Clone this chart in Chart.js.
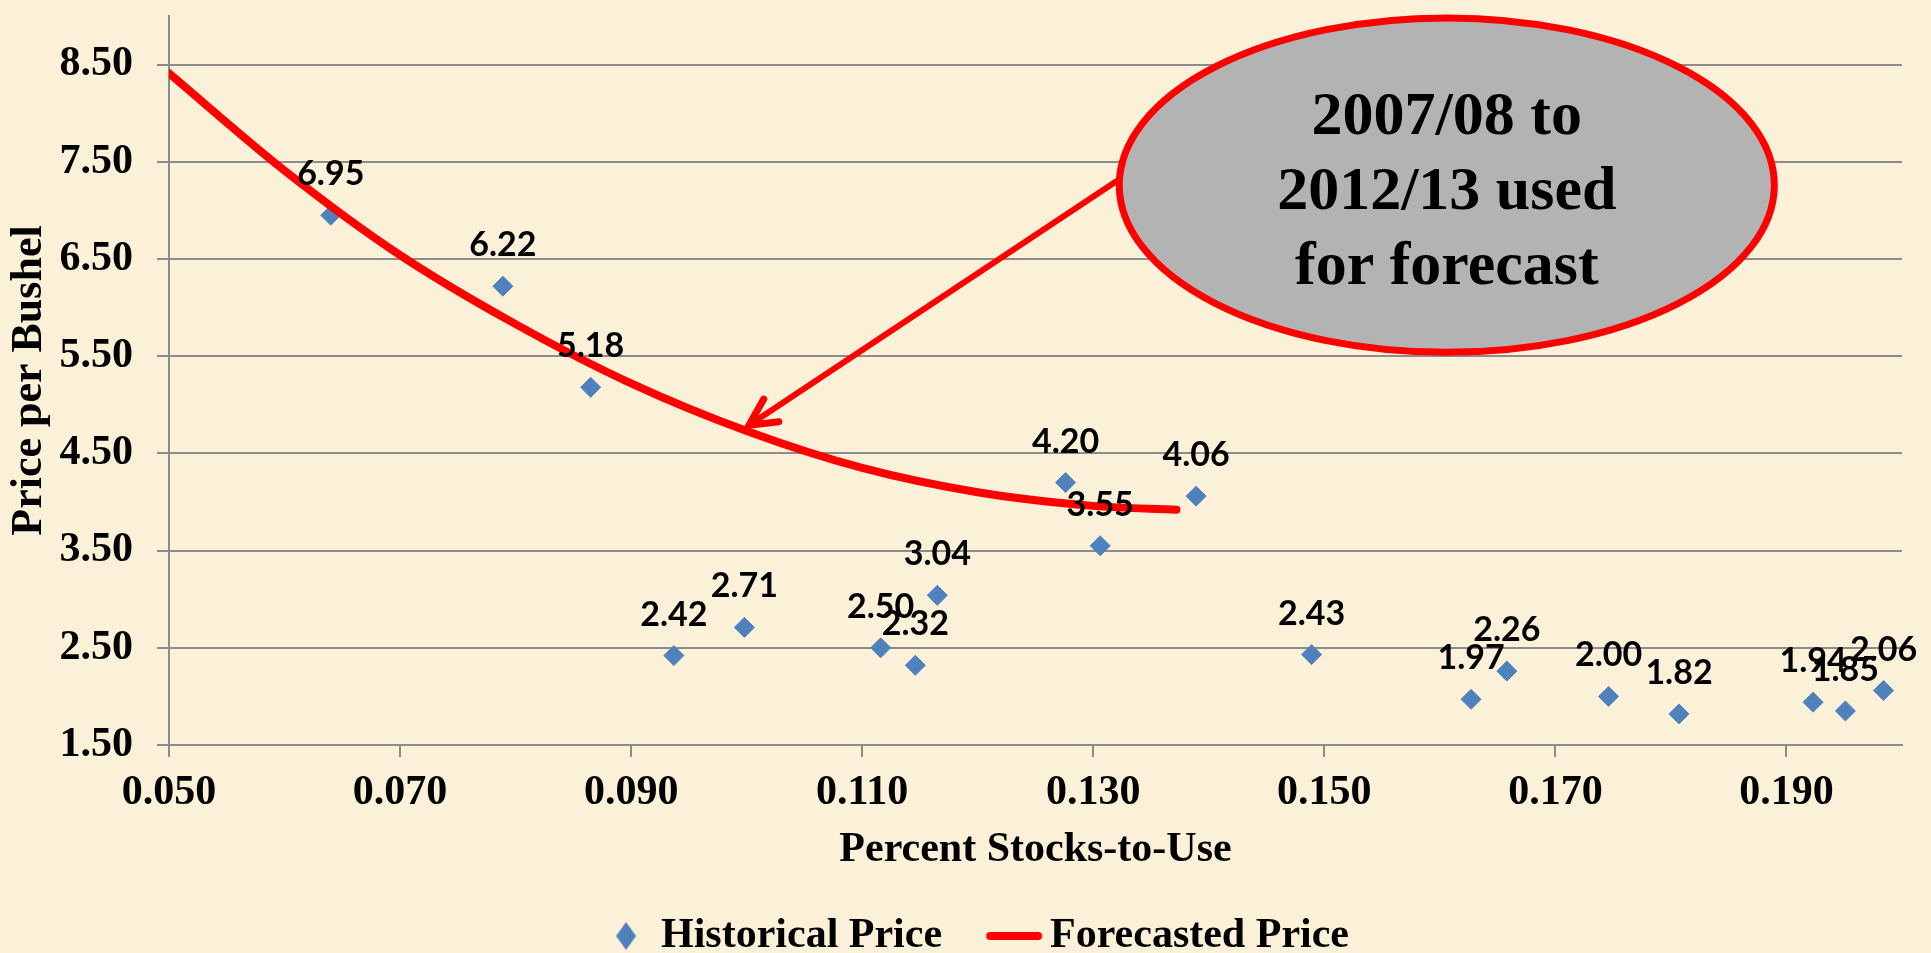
<!DOCTYPE html>
<html>
<head>
<meta charset="utf-8">
<script src="https://cdn.jsdelivr.net/npm/chart.js@4.4.1/dist/chart.umd.min.js"></script>
<style>
    html, body { margin: 0; padding: 0; overflow: hidden; background: #FBF1D9; }
    #myChart { display: block; }
</style>
</head>
<body>
<canvas id="myChart" width="1931" height="967"></canvas>
<script>
// historical season averages (stocks-to-use ratio vs price)
const histStocks = [0.0640, 0.0789, 0.0865, 0.0937, 0.0998, 0.1116, 0.1146, 0.1165, 0.1276, 0.1306,
    0.1389, 0.1489, 0.1627, 0.1658, 0.1746, 0.1807, 0.1923, 0.1951, 0.1984];
const histPrice = [6.95, 6.22, 5.18, 2.42, 2.71, 2.50, 2.32, 3.04, 4.20, 3.55,
    4.06, 2.43, 1.97, 2.26, 2.00, 1.82, 1.94, 1.85, 2.06];

// forecast curve
const fcStocks = [0.050, 0.060, 0.070, 0.080, 0.090, 0.100, 0.110, 0.120, 0.130, 0.1372];
const fcPrice = [8.41, 7.41, 6.54, 5.83, 5.22, 4.73, 4.35, 4.10, 3.96, 3.92];

const xTicks = [0.05, 0.07, 0.09, 0.11, 0.13, 0.15, 0.17, 0.19];
const yTicks = [1.5, 2.5, 3.5, 4.5, 5.5, 6.5, 7.5, 8.5];

const noteLines = ['2007/08 to', '2012/13 used', 'for forecast'];

const blue = '#4F81BD';
const red = '#FF0000';
const grey = '#8C8C8C';
const serif = "'Liberation Serif', 'Times New Roman', serif";

Chart.defaults.font.family = serif;
Chart.defaults.color = '#000';

// legend icons
const diamondIcon = () =>
{
    const c = document.createElement('canvas');
    c.width = 200; c.height = 32;
    const g = c.getContext('2d');
    const cx = 100 + 29.5;
    g.fillStyle = blue;
    g.beginPath();
    g.moveTo(cx, 2);
    g.lineTo(cx + 10, 16);
    g.lineTo(cx, 30);
    g.lineTo(cx - 10, 16);
    g.closePath();
    g.fill();
    return c;
}

const lineIcon = () =>
{
    const c = document.createElement('canvas');
    c.width = 200; c.height = 32;
    const g = c.getContext('2d');
    g.strokeStyle = red;
    g.lineWidth = 8;
    g.lineCap = 'round';
    g.beginPath();
    g.moveTo(104.5, 16);
    g.lineTo(152.5, 16);
    g.stroke();
    return c;
}

const bgPlugin = {
    id: 'bg',
    beforeDraw(chart)
    {
        const ctx = chart.ctx;
        ctx.save();
        ctx.fillStyle = '#FBF1D9';
        ctx.fillRect(0, 0, chart.width, chart.height);
        ctx.restore();
    }
};

const valueLabels = {
    id: 'valueLabels',
    afterDatasetsDraw(chart)
    {
        const ctx = chart.ctx;
        const meta = chart.getDatasetMeta(0);
        ctx.save();
        ctx.font = "bold 34px Lato, 'Liberation Sans', sans-serif";
        ctx.fillStyle = '#000';
        ctx.textAlign = 'center';
        ctx.textBaseline = 'alphabetic';
        meta.data.forEach((pt, i) =>
        {
            ctx.fillText(histPrice[i].toFixed(2), pt.x, pt.y - 30);
        });
        ctx.restore();
    }
};

const callout = {
    id: 'callout',
    afterDatasetsDraw(chart)
    {
        const ctx = chart.ctx;
        const xs = chart.scales.x;
        const ys = chart.scales.y;
        const px = (v) => xs.getPixelForValue(v);
        const py = (v) => ys.getPixelForValue(v);

        // arrow from the bubble to the curve
        const x0 = px(0.1320), y0 = py(7.30);
        const x1 = px(0.1002), y1 = py(4.79);
        const ang = Math.atan2(y0 - y1, x0 - x1);
        ctx.save();
        ctx.strokeStyle = red;
        ctx.lineCap = 'round';
        ctx.lineWidth = 6;
        ctx.beginPath();
        ctx.moveTo(x0, y0);
        ctx.lineTo(x1, y1);
        ctx.stroke();
        ctx.lineWidth = 7;
        ctx.beginPath();
        ctx.moveTo(x1 + 30 * Math.cos(ang - 0.47), y1 + 30 * Math.sin(ang - 0.47));
        ctx.lineTo(x1, y1);
        ctx.lineTo(x1 + 30 * Math.cos(ang + 0.47), y1 + 30 * Math.sin(ang + 0.47));
        ctx.stroke();

        // the bubble
        const cx = px(0.1606), cy = py(7.26);
        const rx = px(0.1606 + 0.02835) - cx;
        const ry = cy - py(7.26 + 1.72);
        ctx.beginPath();
        ctx.ellipse(cx, cy, rx, ry, 0, 0, Math.PI * 2);
        ctx.fillStyle = '#B3B3B3';
        ctx.fill();
        ctx.lineWidth = 7;
        ctx.stroke();

        ctx.fillStyle = '#000';
        ctx.font = 'bold 62px ' + serif;
        ctx.textAlign = 'center';
        ctx.textBaseline = 'alphabetic';
        noteLines.forEach((t, i) =>
        {
            ctx.fillText(t, cx, cy - 51.6 + i * 75);
        });
        ctx.restore();
    }
};

const ctx = document.getElementById('myChart').getContext('2d');
const myChart = new Chart(ctx, {
    type: 'scatter',
    data: {
        datasets: [
            {
                label: 'Historical Price',
                data: histStocks.map((x, i) => ({ x: x, y: histPrice[i] })),
                pointStyle: 'rectRot',
                pointRadius: 10,
                pointHoverRadius: 10,
                backgroundColor: blue,
                borderColor: blue,
                borderWidth: 1,
                order: 2
            },
            {
                label: 'Forecasted Price',
                data: fcStocks.map((x, i) => ({ x: x, y: fcPrice[i] })),
                showLine: true,
                cubicInterpolationMode: 'monotone',
                borderColor: red,
                backgroundColor: red,
                borderWidth: 8,
                borderCapStyle: 'round',
                pointRadius: 0,
                pointHoverRadius: 0,
                order: 1
            }
        ]
    },
    options: {
        responsive: false,
        animation: false,
        events: [],
        layout: { padding: { top: 16, right: 29, bottom: 0, left: 0 } },
        scales: {
            x: {
                type: 'linear',
                min: 0.05,
                max: 0.2,
                afterBuildTicks: (axis) => { axis.ticks = xTicks.map((v) => ({ value: v })); },
                afterFit: (axis) => { axis.paddingLeft = 0; axis.paddingRight = 0; },
                ticks: {
                    padding: 11,
                    maxRotation: 0,
                    font: { size: 42, weight: 'bold' },
                    callback: (v) => v.toFixed(3)
                },
                grid: { drawOnChartArea: false, drawTicks: true, tickLength: 12, color: grey, lineWidth: 2 },
                border: { display: true, color: grey, width: 2 },
                title: {
                    display: true,
                    text: 'Percent Stocks-to-Use',
                    font: { size: 42, weight: 'bold', lineHeight: 1 },
                    padding: { top: 0, bottom: 43.6 }
                }
            },
            y: {
                type: 'linear',
                min: 1.5,
                max: 9.0,
                afterBuildTicks: (axis) => { axis.ticks = yTicks.map((v) => ({ value: v })); },
                afterFit: (axis) => { axis.width = 169; axis.paddingTop = 0; axis.paddingBottom = 0; },
                ticks: {
                    padding: 24,
                    font: { size: 42, weight: 'bold' },
                    callback: (v) => v.toFixed(2)
                },
                grid: { color: grey, lineWidth: 2, tickLength: 12 },
                border: { display: true, color: grey, width: 2 },
                title: {
                    display: true,
                    text: 'Price per Bushel',
                    font: { size: 44, weight: 'bold', lineHeight: 1 },
                    padding: { top: 8, bottom: 0 }
                }
            }
        },
        plugins: {
            tooltip: { enabled: false },
            legend: {
                position: 'bottom',
                labels: {
                    usePointStyle: true,
                    pointStyleWidth: 87,
                    padding: 0,
                    font: { size: 42, weight: 'bold' },
                    color: '#000',
                    sort: (a, b) => a.datasetIndex - b.datasetIndex,
                    generateLabels: (chart) =>
                    {
                        const items = Chart.defaults.plugins.legend.labels.generateLabels(chart);
                        items.forEach((item) =>
                        {
                            item.pointStyle = item.datasetIndex === 0 ? diamondIcon() : lineIcon();
                        });
                        return items;
                    }
                }
            }
        }
    },
    plugins: [bgPlugin, valueLabels, callout]
});
</script>
</body>
</html>
